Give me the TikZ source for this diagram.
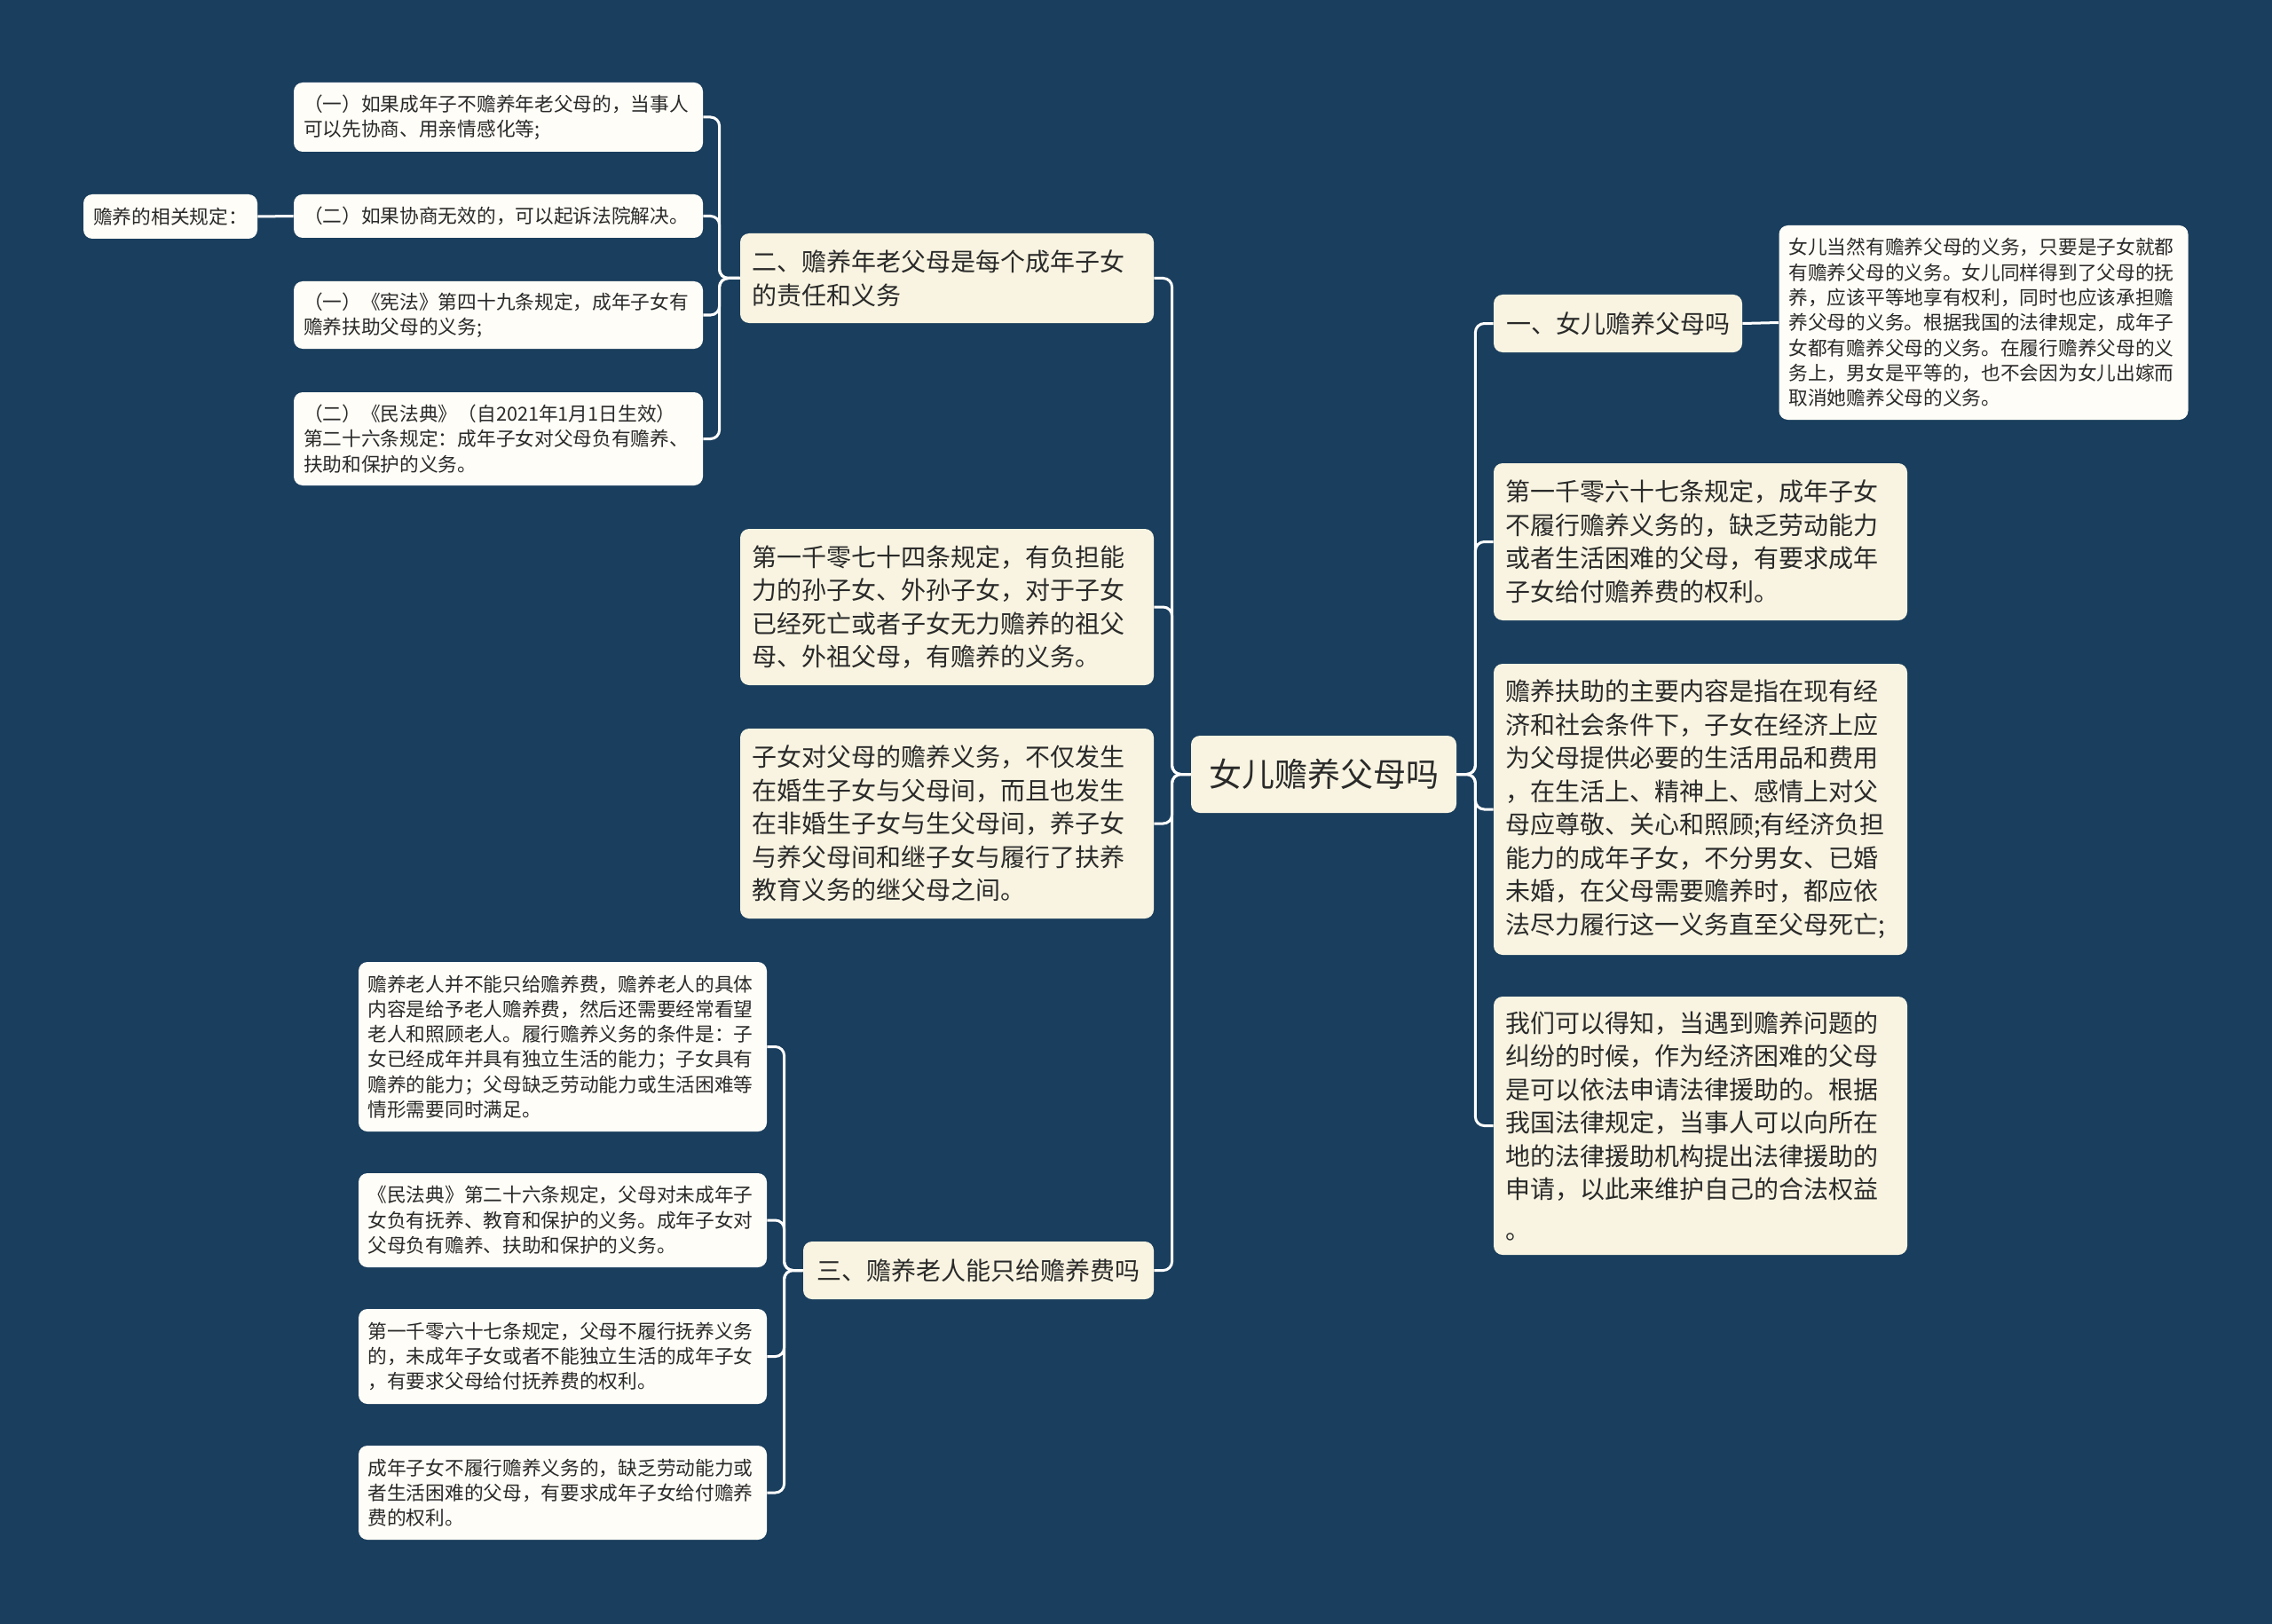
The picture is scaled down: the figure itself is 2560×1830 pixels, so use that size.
\documentclass[tikz,border=0pt]{standalone}
\usepackage{fontspec}
\newfontfamily\cjk{Noto Sans CJK SC}
\definecolor{bg}{HTML}{1A3E5D}
\definecolor{cream}{HTML}{F8F4E1}
\definecolor{leaf}{HTML}{FFFDF7}
\definecolor{ink}{HTML}{2A2A2A}
\begin{document}
\begin{tikzpicture}[x=0.5pt,y=-0.5pt,
  basebox/.style={rectangle, rounded corners=5pt, inner sep=0pt, text=ink, anchor=center},
  rootbox/.style={basebox, fill=cream, font=\cjk\fontsize{18.5}{22}\selectfont},
  midbox/.style={basebox, fill=cream, font=\cjk\fontsize{14}{18.75}\selectfont, align=left, text width=220pt, minimum width=233pt},
  headbox/.style={basebox, fill=cream, font=\cjk\fontsize{14}{18.75}\selectfont},
  leafbox/.style={basebox, fill=leaf, font=\cjk\fontsize{10.85}{14.15}\selectfont, align=left, text width=219.5pt, minimum width=230.5pt},
  tagbox/.style={basebox, fill=leaf, font=\cjk\fontsize{10.85}{14.15}\selectfont},
  conn/.style={draw=white, line width=1.5pt, rounded corners=5pt}
]
\fill[bg] (0,0) rectangle (2560,1830);
\useasboundingbox (0,0) rectangle (2560,1830);

% root
\node[rootbox, minimum width=149.5pt, minimum height=43.5pt] (root) at (1491.5,872.5) {女儿赡养父母吗};

% right side
\node[headbox, minimum width=140pt, minimum height=32.5pt] (R1) at (1823,364.5) {一、女儿赡养父母吗};
\node[leafbox, minimum height=109.5pt] (R1c) at (2235,363.5) {女儿当然有赡养父母的义务，只要是子女就都\\有赡养父母的义务。女儿同样得到了父母的抚\\养，应该平等地享有权利，同时也应该承担赡\\养父母的义务。根据我国的法律规定，成年子\\女都有赡养父母的义务。在履行赡养父母的义\\务上，男女是平等的，也不会因为女儿出嫁而\\取消她赡养父母的义务。};
\node[midbox, minimum height=88.5pt] (R2) at (1916,610.5) {第一千零六十七条规定，成年子女\\不履行赡养义务的，缺乏劳动能力\\或者生活困难的父母，有要求成年\\子女给付赡养费的权利。};
\node[midbox, minimum height=164pt] (R3) at (1916,912) {赡养扶助的主要内容是指在现有经\\济和社会条件下，子女在经济上应\\为父母提供必要的生活用品和费用\\，在生活上、精神上、感情上对父\\母应尊敬、关心和照顾;有经济负担\\能力的成年子女，不分男女、已婚\\未婚，在父母需要赡养时，都应依\\法尽力履行这一义务直至父母死亡;};
\node[midbox, minimum height=145.5pt] (R4) at (1916,1268.5) {我们可以得知，当遇到赡养问题的\\纠纷的时候，作为经济困难的父母\\是可以依法申请法律援助的。根据\\我国法律规定，当事人可以向所在\\地的法律援助机构提出法律援助的\\申请，以此来维护自己的合法权益\\[4pt]。};

% left side
\node[midbox, minimum height=50.5pt] (L1) at (1067,313.5) {二、赡养年老父母是每个成年子女\\的责任和义务};
\node[leafbox, minimum height=39pt] (c1) at (561.5,132) {（一）如果成年子不赡养年老父母的，当事人\\可以先协商、用亲情感化等;};
\node[leafbox, minimum height=24.5pt] (c2) at (561.5,243.5) {（二）如果协商无效的，可以起诉法院解决。};
\node[leafbox, minimum height=38pt] (c3) at (561.5,355) {（一）《宪法》第四十九条规定，成年子女有\\赡养扶助父母的义务;};
\node[leafbox, minimum height=52.5pt] (c4) at (561.5,494.5) {（二）《民法典》（自2021年1月1日生效）\\第二十六条规定：成年子女对父母负有赡养、\\扶助和保护的义务。};
\node[tagbox, minimum width=98pt, minimum height=25pt] (g) at (192,244) {赡养的相关规定：};

\node[midbox, minimum height=88pt] (L2) at (1067,684) {第一千零七十四条规定，有负担能\\力的孙子女、外孙子女，对于子女\\已经死亡或者子女无力赡养的祖父\\母、外祖父母，有赡养的义务。};
\node[midbox, minimum height=107pt] (L3) at (1067,928) {子女对父母的赡养义务，不仅发生\\在婚生子女与父母间，而且也发生\\在非婚生子女与生父母间，养子女\\与养父母间和继子女与履行了扶养\\教育义务的继父母之间。};
\node[headbox, minimum width=197.5pt, minimum height=32.5pt] (L4) at (1102.5,1431.5) {三、赡养老人能只给赡养费吗};

\node[leafbox, minimum width=230pt, minimum height=95.5pt] (d1) at (634,1179.5) {赡养老人并不能只给赡养费，赡养老人的具体\\内容是给予老人赡养费，然后还需要经常看望\\老人和照顾老人。履行赡养义务的条件是：子\\女已经成年并具有独立生活的能力；子女具有\\赡养的能力；父母缺乏劳动能力或生活困难等\\情形需要同时满足。};
\node[leafbox, minimum width=230pt, minimum height=53pt] (d2) at (634,1375) {《民法典》第二十六条规定，父母对未成年子\\女负有抚养、教育和保护的义务。成年子女对\\父母负有赡养、扶助和保护的义务。};
\node[leafbox, minimum width=230pt, minimum height=53.5pt] (d3) at (634,1528.5) {第一千零六十七条规定，父母不履行抚养义务\\的，未成年子女或者不能独立生活的成年子女\\，有要求父母给付抚养费的权利。};
\node[leafbox, minimum width=230pt, minimum height=53pt] (d4) at (634,1682) {成年子女不履行赡养义务的，缺乏劳动能力或\\者生活困难的父母，有要求成年子女给付赡养\\费的权利。};

% connectors: root to right
\foreach \n in {R1,R2,R3,R4} \draw[conn] (root.east) -- ++(21,0) |- (\n.west);
% root to left
\foreach \n in {L1,L2,L3,L4} \draw[conn] (root.west) -- ++(-21,0) |- (\n.east);
% L1 children
\foreach \n in {c1,c2,c3,c4} \draw[conn] (L1.west) -- ++(-23,0) |- (\n.east);
% L4 children
\foreach \n in {d1,d2,d3,d4} \draw[conn] (L4.west) -- ++(-21,0) |- (\n.east);
% straight links
\draw[conn] (R1.east) -- (R1c.west);
\draw[conn] (g.east) -- (c2.west);
\end{tikzpicture}
\end{document}
